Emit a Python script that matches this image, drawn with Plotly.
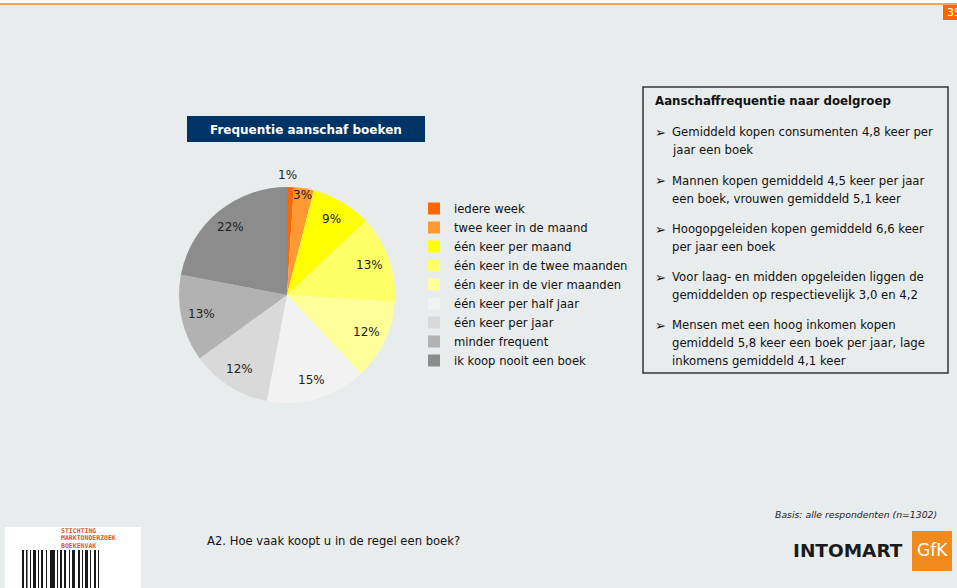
import math
import plotly.graph_objects as go

categories = ["iedere week", "twee keer in de maand", "één keer per maand",
              "één keer in de twee maanden", "één keer in de vier maanden",
              "één keer per half jaar", "één keer per jaar", "minder frequent",
              "ik koop nooit een boek"]
values = [1, 3, 9, 13, 12, 15, 12, 13, 22]
colors = ["#FF6600", "#FF9933", "#FFFF00", "#FFFF66", "#FFFF99",
          "#F2F2F2", "#D9D9D9", "#B2B2B2", "#8C8C8C"]

box_title = "Aanschaffrequentie naar doelgroep"
bullets = [
    ["Gemiddeld kopen consumenten 4,8 keer per", "jaar een boek"],
    ["Mannen kopen gemiddeld 4,5 keer per jaar", "een boek, vrouwen gemiddeld 5,1 keer"],
    ["Hoogopgeleiden kopen gemiddeld 6,6 keer", "per jaar een boek"],
    ["Voor laag- en midden opgeleiden liggen de", "gemiddelden op respectievelijk 3,0 en 4,2"],
    ["Mensen met een hoog inkomen kopen", "gemiddeld 5,8 keer een boek per jaar, lage", "inkomens gemiddeld 4,1 keer"],
]

W, H = 957, 588
FONT = "DejaVu Sans"
BG = "#E9ECEC"

def px(x):
    return x / W

def py(y):
    return 1 - y / H

# pie geometry (pixels)
CX, CY, R = 287, 295, 108
LABEL_R = 88

fig = go.Figure()
fig.add_trace(go.Pie(
    labels=categories, values=values, sort=False, direction="clockwise", rotation=0,
    marker=dict(colors=colors, line=dict(width=0)),
    textinfo="none",
    domain=dict(x=[px(CX - R), px(CX + R)], y=[py(CY + R), py(CY - R)]),
    hoverinfo="label+value",
))

shapes = []
annotations = []

# slice labels, placed from cumulative values
total = sum(values)
cum = 0
special = {0: (287, 175), 1: (302, 195)}
for i, v in enumerate(values):
    mid = (cum + v / 2) / total * 2 * math.pi
    cum += v
    if i in special:
        lx, ly = special[i]
    else:
        lx = CX + LABEL_R * math.sin(mid)
        ly = CY - LABEL_R * math.cos(mid)
    annotations.append(dict(xref="paper", yref="paper", x=px(lx), y=py(ly), text=f"{v}%",
                            showarrow=False, xanchor="center", yanchor="middle",
                            font=dict(family=FONT, size=12, color="#222222")))

# top orange line and page number box
shapes.append(dict(type="rect", xref="paper", yref="paper", x0=0, x1=1, y0=py(3), y1=1,
                   fillcolor="white", line=dict(width=0), layer="below"))
shapes.append(dict(type="rect", xref="paper", yref="paper", x0=0, x1=1, y0=py(5), y1=py(3),
                   fillcolor="#F5A25D", line=dict(width=0), layer="below"))
shapes.append(dict(type="rect", xref="paper", yref="paper", x0=px(943), x1=1, y0=py(20), y1=py(5),
                   fillcolor="#FF6600", line=dict(width=0)))
annotations.append(dict(xref="paper", yref="paper", x=px(945), y=py(12.5), text="35",
                        showarrow=False, xanchor="left", yanchor="middle",
                        font=dict(family=FONT, size=11, color="white")))

# chart title box
shapes.append(dict(type="rect", xref="paper", yref="paper", x0=px(187), x1=px(425), y0=py(142), y1=py(116),
                   fillcolor="#003366", line=dict(width=0)))
annotations.append(dict(xref="paper", yref="paper", x=px(306), y=py(129.5),
                        text="<b>Frequentie aanschaf boeken</b>", showarrow=False,
                        xanchor="center", yanchor="middle",
                        font=dict(family=FONT, size=12, color="white")))

# right text box
shapes.append(dict(type="rect", xref="paper", yref="paper", x0=px(643), x1=px(948), y0=py(373), y1=py(87),
                   fillcolor="rgba(0,0,0,0)", line=dict(color="#333333", width=1.5)))
annotations.append(dict(xref="paper", yref="paper", x=px(653), y=py(101), text=f"<b>{box_title}</b>",
                        showarrow=False, xanchor="left", yanchor="middle",
                        font=dict(family=FONT, size=11.8, color="#111111")))
y0s = [132, 181, 229, 277, 325]
for yb, lines in zip(y0s, bullets):
    annotations.append(dict(xref="paper", yref="paper", x=px(653), y=py(yb), text="➢",
                            showarrow=False, xanchor="left", yanchor="middle",
                            font=dict(family=FONT, size=13, color="#111111")))
    for k, ln in enumerate(lines):
        annotations.append(dict(xref="paper", yref="paper", x=px(670), y=py(yb + 18 * k), text=ln,
                                showarrow=False, xanchor="left", yanchor="middle",
                                font=dict(family=FONT, size=11.7, color="#111111")))

# basis note
annotations.append(dict(xref="paper", yref="paper", x=px(939), y=py(514),
                        text="<i>Basis: alle respondenten (n=1302)</i>", showarrow=False,
                        xanchor="right", yanchor="middle",
                        font=dict(family=FONT, size=9.3, color="#222222")))

# question
annotations.append(dict(xref="paper", yref="paper", x=px(205), y=py(541),
                        text="A2. Hoe vaak koopt u in de regel een boek?", showarrow=False,
                        xanchor="left", yanchor="middle",
                        font=dict(family=FONT, size=11.6, color="#111111")))

# Intomart GfK logo
annotations.append(dict(xref="paper", yref="paper", x=px(905), y=py(550), text="<b>INTOMART</b>",
                        showarrow=False, xanchor="right", yanchor="middle",
                        font=dict(family=FONT, size=18.5, color="#1A1A1A")))
shapes.append(dict(type="rect", xref="paper", yref="paper", x0=px(912), x1=px(952), y0=py(571), y1=py(531),
                   fillcolor="#F18A1C", line=dict(width=0)))
annotations.append(dict(xref="paper", yref="paper", x=px(932), y=py(550), text="GfK",
                        showarrow=False, xanchor="center", yanchor="middle",
                        font=dict(family=FONT, size=17, color="white")))

# SMB logo (left bottom)
shapes.append(dict(type="rect", xref="paper", yref="paper", x0=px(5), x1=px(141), y0=0, y1=py(527),
                   fillcolor="white", line=dict(width=0)))
for k, t in enumerate(["STICHTING", "MARKTONDERZOEK", "BOEKENVAK"]):
    annotations.append(dict(xref="paper", yref="paper", x=px(59), y=py(530.5 + 7.5 * k), text=f"<b>{t}</b>",
                            showarrow=False, xanchor="left", yanchor="middle",
                            font=dict(family="DejaVu Sans Mono", size=6.5, color="#E8531F")))
bars = [(22, 24), (26, 27.5), (30, 31), (33, 36), (38, 39), (41, 43), (46, 47), (50, 55), (57, 58),
        (60, 62), (64, 66), (69, 70), (72, 75), (78, 80), (82, 83), (85, 88), (90, 91), (94, 96), (98, 99)]
for a, b in bars:
    shapes.append(dict(type="rect", xref="paper", yref="paper", x0=px(a), x1=px(b), y0=0, y1=py(550),
                       fillcolor="#1A1A1A", line=dict(width=0)))

fig.update_layout(
    width=W, height=H, margin=dict(l=0, r=0, t=0, b=0),
    paper_bgcolor=BG, plot_bgcolor=BG,
    showlegend=True,
    legend=dict(x=px(414), y=py(194), xanchor="left", yanchor="top",
                font=dict(family=FONT, size=11.6, color="#111111"),
                bgcolor="rgba(0,0,0,0)", itemclick=False, itemwidth=30, tracegroupgap=0),
    shapes=shapes, annotations=annotations,
)

fig.write_html("out.html")
